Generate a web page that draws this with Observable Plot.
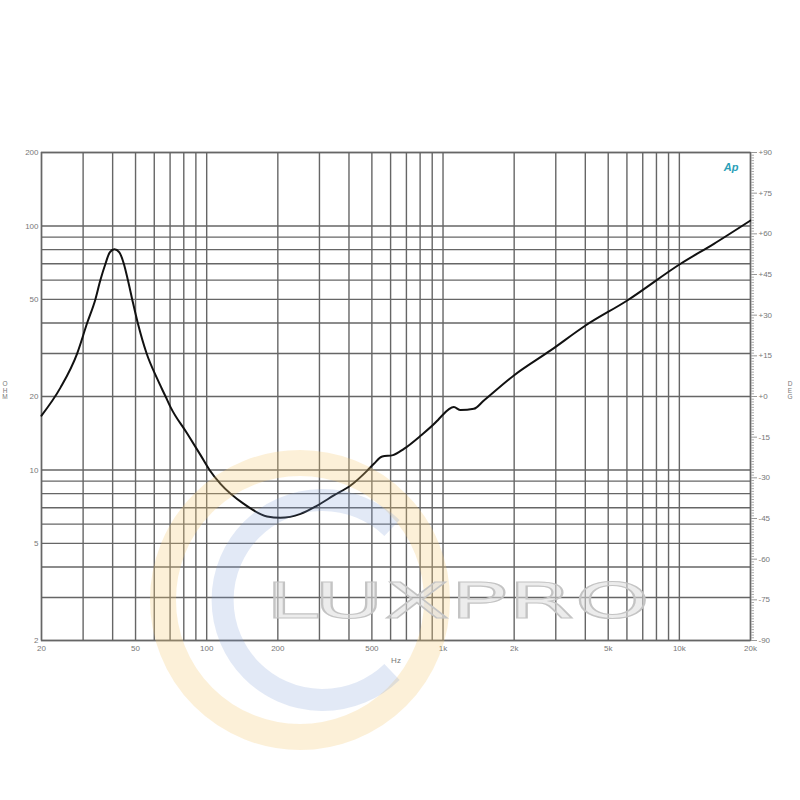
<!DOCTYPE html>
<html>
<head>
<meta charset="utf-8">
<script src="https://cdn.jsdelivr.net/npm/d3@7"></script>
<script src="https://cdn.jsdelivr.net/npm/@observablehq/plot@0.6"></script>
<style>
  html, body { margin: 0; padding: 0; background: #fff; }
  #wrap { position: relative; width: 800px; height: 800px; overflow: hidden; font-family: "Liberation Sans", Arial, sans-serif; }
  #chart { position: absolute; left: 0; top: 0; }
  #wm { position: absolute; left: 0; top: 0; pointer-events: none; }
  .side { position: absolute; font-size: 6.5px; color: #777; line-height: 6.5px; text-align: center; width: 8px; }
</style>
</head>
<body>
<div id="wrap">
  <div id="chart"></div>
  <div class="side" style="left:1px; top:381px;">O<br>H<br>M</div>
  <div class="side" style="left:786px; top:381px;">D<br>E<br>G</div>
</div>
<script>
// Impedance curve (Hz, ohm)
const freq = [20, 24.1, 28.3, 31.2, 33.8, 35.5, 37.3, 38.9, 40.7, 42.7, 44.6, 46.4, 48.4, 51.1, 55.7, 61.8, 67, 70.3, 82.7, 94.2, 102.8, 114.4, 143.6, 180, 205, 249.5, 293.6, 345, 406, 478, 510, 553, 614, 683, 803, 945, 976, 1111, 1186, 1350, 1489, 1994, 2852, 4010, 6020, 10120, 14000, 20000];
const ohm  = [16.7, 21.8, 30, 40, 50, 60, 70, 78, 80.3, 78, 70, 60, 50, 40, 30, 23.6, 20, 18.1, 14.1, 11.5, 10, 8.77, 7.26, 6.45, 6.37, 6.61, 7.15, 7.86, 8.63, 9.94, 10.6, 11.35, 11.5, 12.2, 13.8, 15.9, 16.45, 18.1, 17.6, 17.8, 19.26, 24.4, 30.9, 39.1, 49.5, 70, 84.5, 105.3];

// Grid lines and tick labels
const xGrid = [20,30,40,50,60,70,80,90,100,200,300,400,500,600,700,800,900,1000,2000,3000,4000,5000,6000,7000,8000,9000,10000,20000];
const xTicks = [20,50,100,200,500,1000,2000,5000,10000,20000];
const xTickLabels = ["20","50","100","200","500","1k","2k","5k","10k","20k"];
const yGrid = [2,3,4,5,6,7,8,9,10,20,30,40,50,60,70,80,90,100,200];
const yTicks = [2,5,10,20,50,100,200];
const phaseTicks = [-90,-75,-60,-45,-30,-15,0,15,30,45,60,75,90];
const phaseLabels = ["-90","-75","-60","-45","-30","-15","+0","+15","+30","+45","+60","+75","+90"];

const data = freq.map((f, i) => ({f, z: ohm[i]}));
const xLab = xTicks.map((v, i) => ({v, t: xTickLabels[i]}));
// phase axis (-90..+90) mapped onto the log impedance scale (2..200)
const phToY = p => 2 * Math.pow(10, (p + 90) / 90);
const phLab = phaseTicks.map((p, i) => ({y: phToY(p), t: phaseLabels[i]}));
const phaseMinor = d3.range(-90, 91, 1).filter(p => p % 15 !== 0).map(phToY);

const lbl = "#777";
const chart = Plot.plot({
  width: 800,
  height: 700,
  marginTop: 152,
  marginLeft: 41,
  marginRight: 50,
  marginBottom: 60,
  style: {fontFamily: "Liberation Sans, Arial, sans-serif", fontSize: "8px", background: "transparent"},
  x: {type: "log", domain: [20, 20000], axis: null},
  y: {type: "log", domain: [2, 200]},
  marks: [
    Plot.ruleX(xGrid, {stroke: "#666", strokeWidth: 1.4}),
    Plot.ruleY(yGrid, {stroke: "#666", strokeWidth: 1.4}),
    Plot.frame({stroke: "#666", strokeWidth: 1.4}),
    Plot.line(data, {x: "f", y: "z", stroke: "#111", strokeWidth: 2, curve: "monotone-x"}),
    // bottom tick labels and unit
    Plot.text(xLab, {x: "v", text: "t", frameAnchor: "bottom", dy: 10, fill: lbl, fontSize: 8}),
    Plot.text(["Hz"], {frameAnchor: "bottom", dy: 22, fill: lbl, fontSize: 8}),
    // left tick labels
    Plot.axisY(yTicks, {anchor: "left", tickSize: 0, tickPadding: 3, fill: lbl,
      tickFormat: d => String(d), label: null}),
    // right phase axis
    Plot.axisY(phaseTicks.map(phToY), {anchor: "right", tickSize: 6, stroke: "#999", tickFormat: () => "", label: null}),
    Plot.axisY(phaseMinor, {anchor: "right", tickSize: 3, stroke: "#aaa", tickFormat: () => "", label: null}),
    Plot.text(phLab, {y: "y", text: "t", frameAnchor: "right", dx: 8, textAnchor: "start", fill: lbl, fontSize: 8}),
    Plot.text(["Ap"], {frameAnchor: "top-right", dx: -12, dy: 11, fill: "#2a9fb8", fontSize: 11, fontStyle: "italic", fontWeight: "bold"})
  ]
});
document.getElementById("chart").appendChild(chart);

// faint watermark (decoration)
const ns = "http://www.w3.org/2000/svg";
const wm = document.createElementNS(ns, "svg");
wm.setAttribute("id", "wm");
wm.setAttribute("width", 800);
wm.setAttribute("height", 800);
wm.innerHTML = `
  <circle cx="300" cy="600" r="137" fill="none" stroke="#f3c872" stroke-width="26" opacity="0.28"/>
  <path d="M 392 528 A 100 100 0 1 0 392 672" fill="none" stroke="#7b9bd6" stroke-width="22" opacity="0.22"/>
  <text x="265" y="618" textLength="385" lengthAdjust="spacingAndGlyphs" font-family="DejaVu Sans, sans-serif" font-size="50" fill="#dcdcdc" fill-opacity="0.55" stroke="#c4c4c4" stroke-width="1.2">LUXPRO</text>`;
document.getElementById("wrap").appendChild(wm);
</script>
</body>
</html>
